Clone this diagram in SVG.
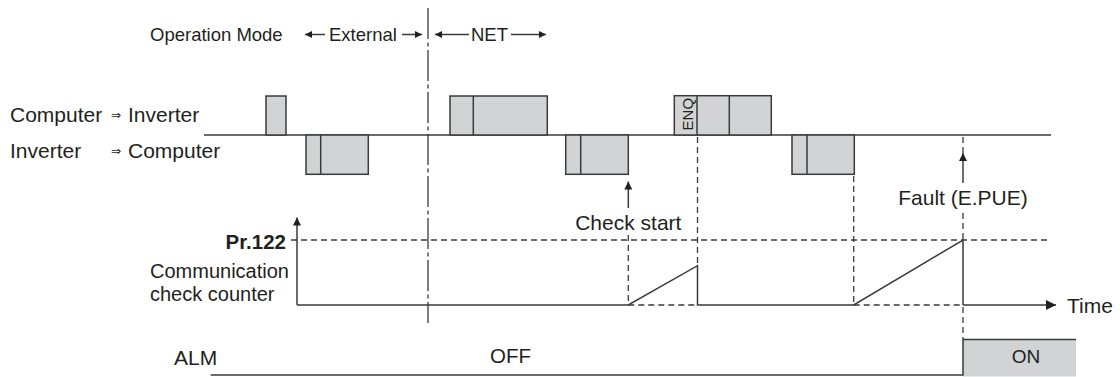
<svg xmlns="http://www.w3.org/2000/svg" width="1120" height="377" viewBox="0 0 1120 377">
<style>
text{font-family:"Liberation Sans",Arial,sans-serif;fill:#231f20}
.m{font-size:18.5px}
.l{font-size:21px}
.c{font-size:20px}
.sym{font-family:"DejaVu Sans",sans-serif;font-size:12px}
.ln{stroke:#3a3a3a;stroke-width:1.5;fill:none}
.ds{stroke:#3a3a3a;stroke-width:1.3;fill:none;stroke-dasharray:6 4}
.dd{stroke:#3a3a3a;stroke-width:1.3;fill:none;stroke-dasharray:31 3.5 4 3.5}
.bx{fill:#d1d3d4;stroke:#3a3a3a;stroke-width:1.5}
</style>
<defs>
<marker id="ah" viewBox="0 0 10 10" refX="10" refY="5" markerWidth="8" markerHeight="8" markerUnits="userSpaceOnUse" orient="auto"><path d="M0,0 L10,5 L0,10 z" fill="#231f20"/></marker>
<marker id="ahs" viewBox="0 0 10 10" refX="10" refY="5" markerWidth="7" markerHeight="7" markerUnits="userSpaceOnUse" orient="auto"><path d="M0,0 L10,5 L0,10 z" fill="#231f20"/></marker>
<marker id="ahl" viewBox="0 0 10 10" refX="10" refY="5" markerWidth="10" markerHeight="10" markerUnits="userSpaceOnUse" orient="auto"><path d="M0,0 L10,5 L0,10 z" fill="#231f20"/></marker>
</defs>

<g id="mode-row">
<text class="m" x="150" y="41">Operation Mode</text>
<text class="m" x="329" y="41">External</text>
<text class="m" x="471" y="41">NET</text>
</g>

<g id="labels">
<text class="l" x="10" y="122">Computer</text>
<text class="sym" x="111" y="119">⇒</text>
<text class="l" x="128" y="122">Inverter</text>
<text class="l" x="10" y="158">Inverter</text>
<text class="sym" x="111" y="155">⇒</text>
<text class="l" x="128" y="158">Computer</text>
<text x="286" y="249" text-anchor="end" style="font-size:20.5px;font-weight:bold">Pr.122</text>
<text class="c" x="150" y="278">Communication</text>
<text class="c" x="150" y="301">check counter</text>
<text class="l" x="174" y="365">ALM</text>
<text x="490" y="363" style="font-size:20.5px">OFF</text>
<text class="l" x="1067" y="313">Time</text>
<text class="l" x="628.3" y="230" text-anchor="middle">Check start</text>
<text class="l" x="963" y="205" text-anchor="middle">Fault (E.PUE)</text>
</g>

<g id="timeline">
<line class="ln" x1="204" y1="135" x2="1051" y2="135"/>
</g>

<g id="frame1">
<rect class="bx" x="266" y="96" width="20" height="39"/>
</g>
<g id="frame2">
<rect class="bx" x="306" y="135" width="62.3" height="39.3"/>
<line class="ln" x1="320.7" y1="135" x2="320.7" y2="174.3"/>
</g>
<g id="frame3">
<rect class="bx" x="450" y="96" width="97.3" height="39"/>
<line class="ln" x1="473.3" y1="96" x2="473.3" y2="135"/>
</g>
<g id="frame4">
<rect class="bx" x="565.7" y="135" width="62.6" height="39.3"/>
<line class="ln" x1="580.7" y1="135" x2="580.7" y2="174.3"/>
</g>
<g id="frame5">
<rect class="bx" x="674.3" y="95.7" width="97" height="39.3"/>
<line class="ln" x1="697" y1="95.7" x2="697" y2="135"/>
<line class="ln" x1="729.3" y1="95.7" x2="729.3" y2="135"/>
<text transform="translate(692.5,114.2) rotate(-90)" text-anchor="middle" style="font-size:15px">ENQ</text>
</g>
<g id="frame6">
<rect class="bx" x="792" y="135" width="62.3" height="39.3"/>
<line class="ln" x1="807" y1="135" x2="807" y2="174.3"/>
</g>

<g id="alm-on">
<rect x="963" y="339.5" width="113" height="37" fill="#d1d3d4"/>
<text x="1026" y="363" text-anchor="middle" style="font-size:19px">ON</text>
</g>

<g id="connectors">
<line class="ln" x1="325" y1="34.5" x2="305" y2="34.5" marker-end="url(#ahs)"/>
<line class="ln" x1="402" y1="34.5" x2="422" y2="34.5" marker-end="url(#ahs)"/>
<line class="ln" x1="469" y1="34.5" x2="435" y2="34.5" marker-end="url(#ahs)"/>
<line class="ln" x1="511" y1="34.5" x2="546" y2="34.5" marker-end="url(#ahs)"/>
<line class="dd" x1="428" y1="8" x2="428" y2="323"/>
<line class="ln" x1="628.3" y1="208" x2="628.3" y2="181.5" marker-end="url(#ah)"/>
<line class="ds" x1="963" y1="137" x2="963" y2="154"/>
<line class="ln" x1="963" y1="183" x2="963" y2="153" marker-end="url(#ah)"/>
<line class="ds" x1="963" y1="213" x2="963" y2="240"/>
<line class="ln" x1="297" y1="305" x2="297" y2="217.5" marker-end="url(#ah)"/>
<line class="ds" x1="291" y1="240" x2="1051" y2="240"/>
<line class="ds" x1="628.3" y1="235" x2="628.3" y2="305"/>
<line class="ds" x1="697.5" y1="137" x2="697.5" y2="266"/>
<line class="ds" x1="853.7" y1="176" x2="853.7" y2="305"/>
<line class="ds" x1="628.3" y1="305" x2="697.5" y2="305"/>
<line class="ds" x1="853.7" y1="305" x2="963" y2="305"/>
<polyline class="ln" points="297,305 628.3,305 697.5,265.7 697.5,305 853.7,305 963,240 963,305"/>
<line class="ln" x1="963" y1="305" x2="1056" y2="305" marker-end="url(#ahl)"/>
<line class="ds" x1="963" y1="307" x2="963" y2="339"/>
<polyline class="ln" points="210.7,375 963,375 963,339.5 1076,339.5"/>
</g>
</svg>
